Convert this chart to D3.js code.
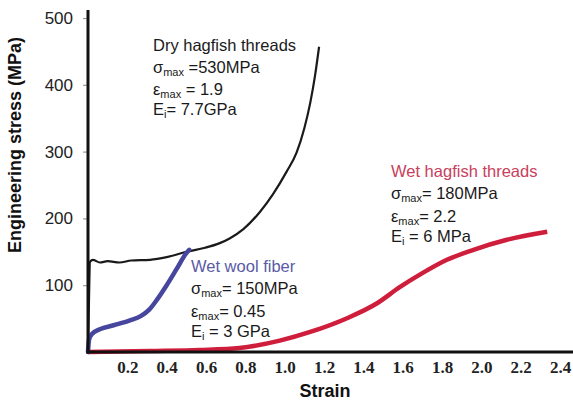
<!DOCTYPE html>
<html lang="en">

<head>
  <title>Hagfish threads stress-strain</title>
  <script src="https://cdn.jsdelivr.net/npm/d3@7"></script>
  <style>
    body { margin: 0; background: #fff; }
    .y.axis text { font-family: "Liberation Sans", Arial, sans-serif; font-size: 17px; fill: #222; }
    .x.axis text { font-family: "Liberation Serif", "Times New Roman", serif; font-size: 17px; font-weight: bold; fill: #222; }
    .axis-label { font-family: "Liberation Sans", Arial, sans-serif; font-size: 18px; font-weight: bold; fill: #111; }
    .note { font-family: "Liberation Sans", Arial, sans-serif; font-size: 16.5px; fill: #1a1a1a; }
  </style>
</head>

<body>
  <script>
    // values
    var xTicks = [0.2, 0.4, 0.6, 0.8, 1.0, 1.2, 1.4, 1.6, 1.8, 2.0, 2.2, 2.4];
    var yTicks = [100, 200, 300, 400, 500];

    var dryStrain = [0, 0.005, 0.01, 0.025, 0.06, 0.1, 0.16, 0.22, 0.315, 0.4, 0.5, 0.595, 0.67, 0.72, 0.79, 0.875, 0.94, 1.01, 1.06, 1.10, 1.13, 1.155, 1.175];
    var dryStress = [0, 78, 135, 138, 134, 136, 134, 137, 138, 142, 150, 156, 163, 170, 184, 210, 236, 270, 298, 335, 373, 415, 457];

    var woolStrain = [0, 0.005, 0.02, 0.06, 0.13, 0.21, 0.27, 0.31, 0.35, 0.40, 0.45, 0.50, 0.515];
    var woolStress = [0, 18, 27, 34, 40, 47, 54, 63, 78, 100, 124, 148, 153];

    var wetStrain = [0, 0.315, 0.57, 0.77, 0.975, 1.13, 1.32, 1.47, 1.585, 1.70, 1.825, 1.96, 2.13, 2.335];
    var wetStress = [0, 1.5, 3, 6, 17, 30, 51, 73, 97, 118, 138, 153, 168, 180];

    var seriesNames = ["Dry hagfish threads", "Wet wool fiber", "Wet hagfish threads"];
    var sigmaMax = ["530MPa", "150MPa", "180MPa"];
    var epsMax = ["1.9", "0.45", "2.2"];
    var modulus = ["7.7GPa", "3 GPa", "6 MPa"];

    var w = 573;
    var h = 407;
    var margin = { top: 10, left: 88, right: 13, bottom: 55 };

    var svg = d3.select("body").append("svg")
                .attr("width", w)
                .attr("height", h);

    var x = d3.scaleLinear()
              .domain([0, 2.4])
              .range([margin.left, 560]);
    var y = d3.scaleLinear()
              .domain([0, 512])
              .range([h - margin.bottom, margin.top]);
    var y0 = y(0);

    // y axis
    var yAxis = d3.axisLeft(y)
                  .tickValues(yTicks)
                  .tickSize(5)
                  .tickPadding(10);
    var gy = svg.append("g")
                .attr("class", "y axis")
                .attr("transform", "translate(" + x(0) + ",0)")
                .call(yAxis);
    gy.select(".domain").remove();
    gy.selectAll(".tick line").attr("stroke", "#999").attr("stroke-width", 1.2);

    // x axis
    var xAxis = d3.axisBottom(x)
                  .tickValues(xTicks)
                  .tickSize(0)
                  .tickPadding(9)
                  .tickFormat(d3.format(".1f"));
    var gx = svg.append("g")
                .attr("class", "x axis")
                .attr("transform", "translate(0," + y0 + ")")
                .call(xAxis);
    gx.select(".domain").remove();

    // curves
    function toPoints(xs, ys) {
      return xs.map(function (d, i) { return [d, ys[i]]; });
    }
    var line = d3.line()
                 .x(function (d) { return x(d[0]); })
                 .y(function (d) { return y(d[1]); })
                 .curve(d3.curveMonotoneX);

    svg.append("path")
       .datum(toPoints(wetStrain, wetStress))
       .attr("fill", "none")
       .attr("stroke", "#cf1e3c")
       .attr("stroke-width", 4.5)
       .attr("d", line);

    svg.append("path")
       .datum(toPoints(dryStrain, dryStress))
       .attr("fill", "none")
       .attr("stroke", "#1a1a1a")
       .attr("stroke-width", 2.2)
       .attr("stroke-linejoin", "round")
       .attr("d", line);

    svg.append("path")
       .datum(toPoints(woolStrain, woolStress))
       .attr("fill", "none")
       .attr("stroke", "#46469e")
       .attr("stroke-width", 4.5)
       .attr("stroke-linecap", "round")
       .attr("d", line);

    // axis lines drawn on top
    svg.append("line")
       .attr("x1", x(0)).attr("x2", x(0))
       .attr("y1", margin.top).attr("y2", y0 + 1.5)
       .attr("stroke", "#111").attr("stroke-width", 3);
    svg.append("line")
       .attr("x1", x(0) - 1.5).attr("x2", w)
       .attr("y1", y0).attr("y2", y0)
       .attr("stroke", "#111").attr("stroke-width", 3);

    // axis titles
    svg.append("text")
       .attr("class", "axis-label")
       .attr("text-anchor", "middle")
       .attr("transform", "translate(21,145) rotate(-90)")
       .text("Engineering stress (MPa)");
    svg.append("text")
       .attr("class", "axis-label")
       .attr("text-anchor", "middle")
       .attr("x", 325)
       .attr("y", 397)
       .text("Strain");

    // annotations
    var notes = [
      { left: 153, top: 51, color: "#1a1a1a", gap: [0, 22, 44, 64] },
      { left: 191, top: 272, color: "#5a5aa6", gap: [0, 22, 45, 65] },
      { left: 391, top: 177, color: "#c8405c", gap: [0, 22, 45, 65] }
    ];

    notes.forEach(function (n, i) {
      var g = svg.append("g").attr("class", "note");
      g.append("text")
       .attr("x", n.left).attr("y", n.top + n.gap[0])
       .style("fill", n.color)
       .text(seriesNames[i]);

      var rows = [
        { sym: "σ", sub: "max", rest: (i === 0 ? " =" : "= ") + sigmaMax[i] },
        { sym: "ε", sub: "max", rest: (i === 0 ? " = " : "= ") + epsMax[i] },
        { sym: "E", sub: "i", rest: (i === 0 ? "= " : " = ") + modulus[i] }
      ];
      rows.forEach(function (r, k) {
        var t = g.append("text")
                 .attr("x", n.left)
                 .attr("y", n.top + n.gap[k + 1]);
        t.append("tspan").text(r.sym);
        t.append("tspan").attr("dy", 3).style("font-size", "11px").text(r.sub);
        t.append("tspan").attr("dy", -3).text(r.rest);
      });
    });
  </script>
</body>

</html>
